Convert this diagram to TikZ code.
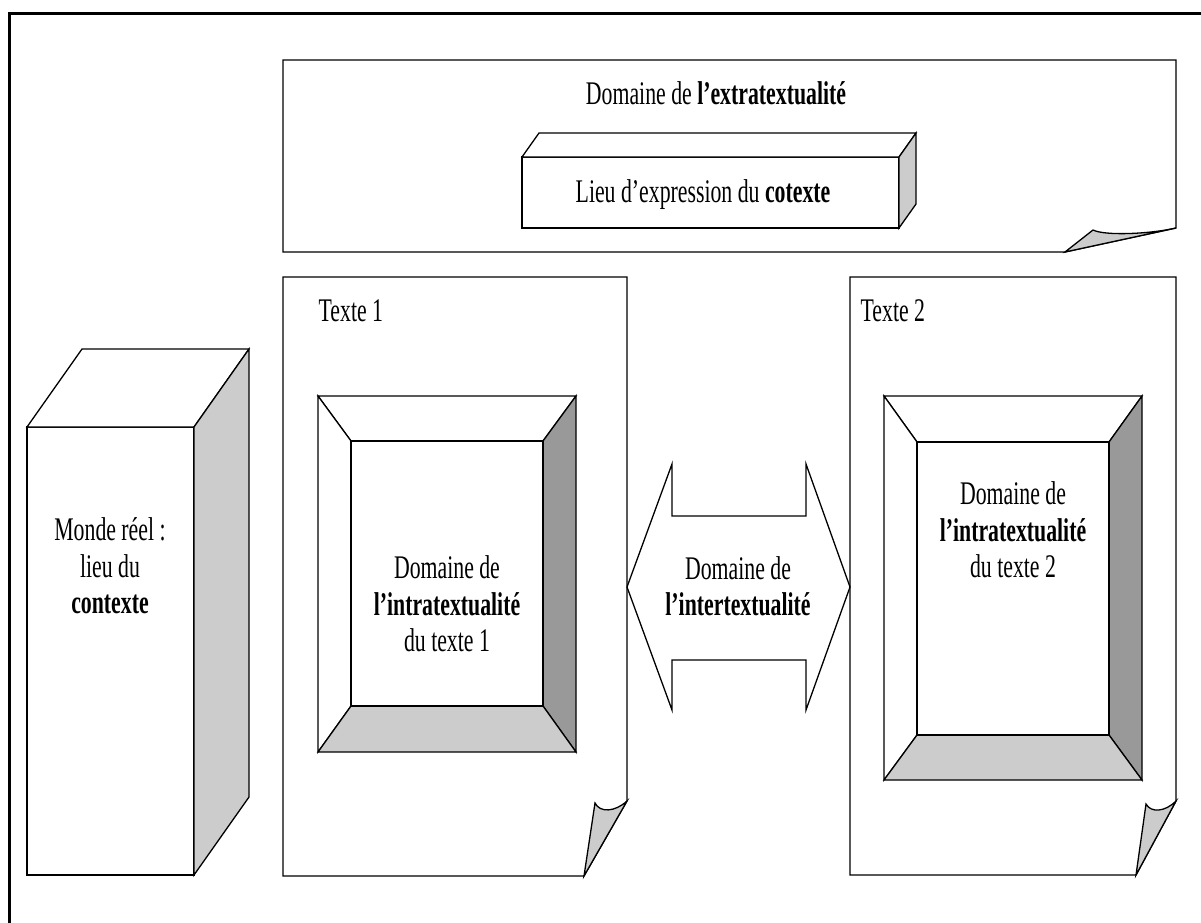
\documentclass[tikz,border=0pt]{standalone}
\usepackage{fontspec}
\setmainfont[FakeStretch=0.66]{Liberation Serif}
\definecolor{lgray}{HTML}{CCCCCC}
\definecolor{dgray}{HTML}{999999}
\begin{document}
\begin{tikzpicture}[x=1pt,y=-1pt,line width=1.3pt,line join=miter,
  plain/.style={draw=black,fill=white},
  light/.style={draw=black,fill=lgray},
  dark/.style={draw=black,fill=dgray},
  txt/.style={font=\fontsize{33}{36.5}\selectfont,align=center,inner sep=0pt}]
\useasboundingbox (0,0) rectangle (1201,922);
% outer frame
\draw[line width=3pt] (9,925) -- (9,13) -- (1204,13);
% top box (folded corner)
\draw[plain] (283,60) -- (1176,60) -- (1176,228) -- (1065,252) -- (283,252) -- cycle;
\draw[light] (1065,252) -- (1093,230) .. controls (1105,236) and (1150,234) .. (1176,228) -- cycle;
\node[txt,anchor=base] (extra) at (716,104) {Domaine de \textbf{l’extratextualité}};
% cube cotexte
\draw[plain] (522,157) rectangle (899,228);
\draw[plain] (522,157) -- (539,133) -- (916,133) -- (899,157) -- cycle;
\draw[light] (899,157) -- (916,133) -- (916,204) -- (899,228) -- cycle;
\node[txt,anchor=base] (cotexte) at (703,202) {Lieu d’expression du \textbf{cotexte}};
% left tall cube
\draw[plain] (27,427) rectangle (194,875);
\draw[plain] (27,427) -- (82,349) -- (249,349) -- (194,427) -- cycle;
\draw[light] (194,427) -- (249,349) -- (249,797) -- (194,875) -- cycle;
\node[txt] (monde) at (110,566) {Monde réel :\\lieu du\\\textbf{contexte}};
% Texte 1 box
\draw[plain] (283,277) -- (627,277) -- (627,801) -- (584,876) -- (283,876) -- cycle;
\draw[light] (584,876) -- (595,803) .. controls (600,813) and (615,812) .. (627,801) -- cycle;
\node[txt,anchor=base west] (t1) at (318,321) {Texte 1};
% Texte 2 box
\draw[plain] (850,277) -- (1176,277) -- (1176,801) -- (1136,875) -- (850,875) -- cycle;
\draw[light] (1136,875) -- (1146,804) .. controls (1151,813) and (1165,812) .. (1176,801) -- cycle;
\node[txt,anchor=base west] (t2) at (860,321) {Texte 2};
% bevel 1
\draw[plain] (318,396) -- (576,396) -- (543,441) -- (351,441) -- cycle;
\draw[plain] (318,396) -- (351,441) -- (351,706) -- (318,752) -- cycle;
\draw[dark] (576,396) -- (576,752) -- (543,706) -- (543,441) -- cycle;
\draw[light] (318,752) -- (576,752) -- (543,706) -- (351,706) -- cycle;
\draw[plain] (351,441) rectangle (543,706);
\node[txt] (intra1) at (447,604) {Domaine de\\\textbf{l’intratextualité}\\du texte 1};
% bevel 2
\draw[plain] (884,396) -- (1142,396) -- (1109,442) -- (917,442) -- cycle;
\draw[plain] (884,396) -- (917,442) -- (917,735) -- (884,780) -- cycle;
\draw[dark] (1142,396) -- (1142,780) -- (1109,735) -- (1109,442) -- cycle;
\draw[light] (884,780) -- (1142,780) -- (1109,735) -- (917,735) -- cycle;
\draw[plain] (917,442) rectangle (1109,735);
\node[txt] (intra2) at (1013,530) {Domaine de\\\textbf{l’intratextualité}\\du texte 2};
% double arrow
\draw[plain] (627,587) -- (672,464) -- (672,516) -- (806,516) -- (806,464) -- (850,587)
  -- (806,710) -- (806,660) -- (672,660) -- (672,710) -- cycle;
\node[txt] (inter) at (738,586) {Domaine de\\\textbf{l’intertextualité}};
\end{tikzpicture}
\end{document}
